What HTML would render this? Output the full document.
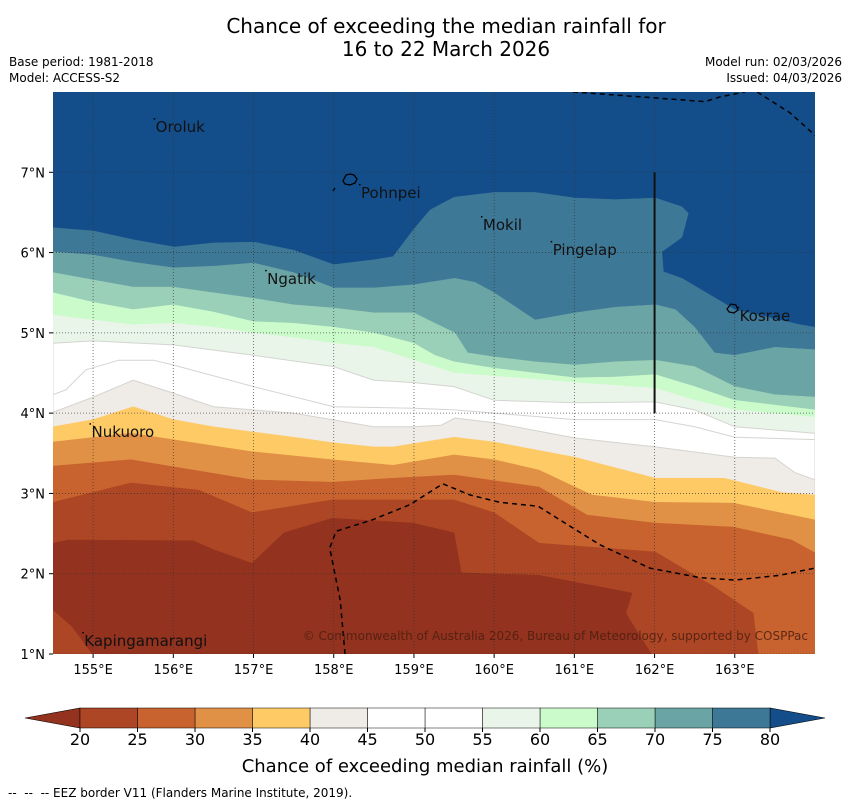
<!DOCTYPE html>
<html><head><meta charset="utf-8">
<style>
body{margin:0;background:#fff;width:850px;height:804px;overflow:hidden;font-family:"DejaVu Sans","Liberation Sans",sans-serif;}
svg text{font-family:"DejaVu Sans","Liberation Sans",sans-serif;}
</style></head>
<body>
<svg id="chart" width="850" height="804" viewBox="0 0 850 804" xmlns="http://www.w3.org/2000/svg">
<text x="446" y="33" font-size="20" text-anchor="middle">Chance of exceeding the median rainfall for</text>
<text x="446" y="56" font-size="20" text-anchor="middle">16 to 22 March 2026</text>
<text x="9" y="66" font-size="12">Base period: 1981-2018</text>
<text x="9" y="82" font-size="12">Model: ACCESS-S2</text>
<text x="842" y="66" font-size="12" text-anchor="end">Model run: 02/03/2026</text>
<text x="842" y="82" font-size="12" text-anchor="end">Issued: 04/03/2026</text>
<defs><clipPath id="plotclip"><rect x="53" y="92" width="762" height="562"/></clipPath></defs>
<g id="map" clip-path="url(#plotclip)"></g>
<g id="axes"></g>
<g id="cbar"></g>
<text x="425" y="772" font-size="18" text-anchor="middle">Chance of exceeding median rainfall (%)</text>
<text x="8" y="797" font-size="12" xml:space="preserve">--  --  -- EEZ border V11 (Flanders Marine Institute, 2019).</text>
</svg>
<script>
// Contour levels (%) and band colours
const levels = [80,75,70,65,60,55,50,45,40,35,30,25,20];
const bandColors = ["#3e7897","#6ba4a4","#9acfb8","#ccfbcb","#eaf5ea","#ffffff","#ffffff","#efebe6","#fdca66","#e09145","#c8622f","#ad4624","#93321e"];
const topColor = "#134e8a";
// Contour boundary positions (lon / lat) for each level
const c80lon=[154.5,155,155.5,156.01,156.51,157.01,157.5,158,158.5,158.74,158.99,159.2,159.5,160,160.51,161.01,161.51,162.01,162.34,162.42,162.34,162.09,162.11,162.34,163,163.82,164];
const c80lat=[6.31,6.27,6.16,6.07,6.12,6.13,6.03,5.85,5.91,5.95,6.28,6.53,6.69,6.75,6.75,6.68,6.66,6.68,6.57,6.49,6.19,6.01,5.76,5.68,5.29,5.10,5.07];
const c75lon=[154.5,155,155.5,156,156.5,157,157.5,158,158.5,159,159.51,159.76,160,160.51,161.01,161.51,162.01,162.26,162.5,162.75,163,163.5,164];
const c75lat=[6.01,5.97,5.88,5.81,5.83,5.87,5.75,5.56,5.56,5.60,5.68,5.63,5.50,5.16,5.25,5.32,5.35,5.29,5.07,4.75,4.72,4.82,4.79];
const c70lon=[154.5,155,155.5,156,156.5,157,157.5,158,158.5,159,159.26,159.51,159.67,160,160.51,161.01,161.51,162.01,162.5,163,163.5,164];
const c70lat=[5.75,5.66,5.57,5.57,5.50,5.43,5.35,5.31,5.25,5.25,5.12,5.00,4.75,4.70,4.64,4.60,4.64,4.66,4.58,4.33,4.23,4.20];
const c65lon=[154.5,155,155.5,156,156.5,157,157.5,158,158.5,159,159.26,159.5,160,161.01,161.51,162.01,162.5,163,164];
const c65lat=[5.50,5.38,5.29,5.35,5.26,5.14,5.12,5.07,5.00,4.87,4.72,4.64,4.56,4.44,4.45,4.48,4.33,4.16,4.04];
const c60lon=[154.5,155,155.5,156,156.5,157,157.5,158,158.5,159,159.5,161.01,162.01,162.5,163,164];
const c60lat=[5.22,5.16,5.10,5.12,5.07,5.00,4.94,4.87,4.82,4.66,4.50,4.38,4.31,4.16,4.04,3.95];
const c55lon=[154.5,155,156,157,158,158.5,159,159.5,160,161.01,162.01,162.5,163,164];
const c55lat=[4.87,4.90,4.85,4.72,4.58,4.41,4.38,4.33,4.16,4.13,4.14,4.04,3.83,3.75];
const c50lon=[154.5,154.66,154.91,155.32,155.75,156,157,158,159,159.5,161.01,162.01,162.5,163,164];
const c50lat=[4.23,4.29,4.54,4.66,4.66,4.60,4.33,4.08,4.06,4.04,3.92,3.92,3.83,3.70,3.67];
const c45lon=[154.5,155,155.5,156,156.5,157.5,158.5,159,159.34,159.51,160,161.01,162.01,163,163.5,163.75,164];
const c45lat=[4.01,4.20,4.41,4.25,4.08,4.00,3.83,3.83,3.85,3.94,3.88,3.69,3.58,3.45,3.44,3.26,3.17];
const c40lon=[154.5,155,155.5,156,156.5,157.5,158,158.5,158.74,159.5,160,161.01,162.01,162.87,163.59,164];
const c40lat=[3.83,3.92,4.08,3.92,3.83,3.70,3.63,3.58,3.58,3.70,3.64,3.45,3.19,3.19,3.01,2.98];
const c35lon=[154.5,155.47,156.98,157.98,158.74,159.5,160,160.56,161.22,162.01,162.98,164];
const c35lat=[3.64,3.75,3.52,3.42,3.35,3.48,3.42,3.29,2.98,2.89,2.88,2.67];
const c30lon=[154.5,155.47,156.98,157.98,158.74,159.5,160.56,161.16,162.01,162.98,163.71,164];
const c30lat=[3.34,3.42,3.17,3.14,3.19,3.23,3.08,2.73,2.63,2.58,2.42,2.26];
const c25lon=[154.5,155.47,156.32,156.98,157.98,159.5,160,160.56,162.01,162.74,163.23,163.29];
const c25lat=[2.89,3.13,3.04,2.76,2.92,2.92,2.76,2.38,2.27,1.84,1.51,1.0];
const c20lon=[154.99,154.74,154.5,154.5,154.69,156.25,156.5,156.98,157.38,157.98,158.99,159.5,159.59,160.56,161.72,161.64,161.96];
const c20lat=[1.0,1.34,1.55,2.38,2.42,2.41,2.30,2.13,2.51,2.69,2.63,2.51,2.01,1.98,1.76,1.51,1.0];
const contourLons=[c80lon,c75lon,c70lon,c65lon,c60lon,c55lon,c50lon,c45lon,c40lon,c35lon,c30lon,c25lon,c20lon];
const contourLats=[c80lat,c75lat,c70lat,c65lat,c60lat,c55lat,c50lat,c45lat,c40lat,c35lat,c30lat,c25lat,c20lat];
// EEZ borders
const eezSouthLon=[158.14,158.08,157.95,158.03,158.48,158.95,159.36,159.70,160.07,160.55,160.82,161.32,161.94,162.57,163.0,163.56,164.0];
const eezSouthLat=[1.0,1.67,2.32,2.53,2.67,2.86,3.12,2.98,2.89,2.84,2.67,2.36,2.07,1.95,1.92,1.98,2.07];
const eezNorthLon=[160.98,161.82,162.63,162.82,163.13];
const eezNorthLat=[8.0,7.94,7.88,7.94,8.0];
const eezNeLon=[163.28,163.69,164.0];
const eezNeLat=[8.0,7.74,7.46];
// Islands
const islandNames=["Oroluk","Pohnpei","Mokil","Pingelap","Ngatik","Kosrae","Nukuoro","Kapingamarangi"];
const islandLon=[155.78,158.34,159.86,160.73,157.17,163.06,154.98,154.89];
const islandLat=[7.65,6.83,6.43,6.12,5.76,5.3,3.85,1.25];
// Axis ticks
const lonTicks=[155,156,157,158,159,160,161,162,163];
const latTicks=[1,2,3,4,5,6,7];
const cbarTicks=[20,25,30,35,40,45,50,55,60,65,70,75,80];

const NS="http://www.w3.org/2000/svg";
const X0=53,X1=815,Y0=92,Y1=654,LON0=154.5,LON1=164,LAT0=1,LAT1=8;
function xs(lon){return X0+(lon-LON0)/(LON1-LON0)*(X1-X0);}
function ys(lat){return Y1-(lat-LAT0)/(LAT1-LAT0)*(Y1-Y0);}
function mk(tag,attrs,parent){const e=document.createElementNS(NS,tag);for(const k in attrs)e.setAttribute(k,attrs[k]);parent.appendChild(e);return e;}
const map=document.getElementById('map');
let bg=mk('rect',{x:X0,y:Y0,width:X1-X0,height:Y1-Y0,fill:topColor},map);


levels.forEach((lv,i)=>{
  const lons=contourLons[i],lats=contourLats[i];
  let pts=lons.map((l,j)=>xs(l).toFixed(1)+","+ys(lats[j]).toFixed(1));
  pts.push(xs(lons[lons.length-1]).toFixed(1)+","+(ys(0.9)).toFixed(1));
  pts.push(xs(lons[0]).toFixed(1)+","+(ys(0.9)).toFixed(1));
  const white=(lv<=55&&lv>=45);
  const p=mk('polygon',{points:pts.join(" "),fill:bandColors[i],stroke:white?"#d4d4d0":bandColors[i],"stroke-width":white?1:0.5},map);
  
  
});
// grid
lonTicks.forEach(l=>{const g=mk('line',{x1:xs(l),x2:xs(l),y1:Y0,y2:Y1,stroke:"#333","stroke-width":0.8,"stroke-dasharray":"1,2",opacity:0.8},map);

});
latTicks.forEach(l=>{const g=mk('line',{x1:X0,x2:X1,y1:ys(l),y2:ys(l),stroke:"#333","stroke-width":0.8,"stroke-dasharray":"1,2",opacity:0.8},map);

});
// EEZ
[[eezSouthLon,eezSouthLat],[eezNorthLon,eezNorthLat],[eezNeLon,eezNeLat]].forEach((e,k)=>{
  const d=e[0].map((l,j)=>(j?"L":"M")+xs(l).toFixed(1)+","+ys(e[1][j]).toFixed(1)).join(" ");
  const p=mk('path',{d:d,fill:"none",stroke:"#000","stroke-width":1.5,"stroke-dasharray":"5,4"},map);
  
  
});
// vertical border line at 162E
let vl=mk('line',{x1:xs(162),x2:xs(162),y1:ys(7),y2:ys(4),stroke:"#111","stroke-width":2},map);


// island shapes
let pohn=mk('path',{d:"M344,179 l2,-4 l4,-1 l4,1 l3,4 l-2,4 l-5,2 l-5,-1 l-2,-3 z M335,188 l-2,3",fill:"none",stroke:"#000","stroke-width":1.3},map);


let kos=mk('path',{d:"M727,309 l4,-5 l5,1 l2,5 l-4,3 l-5,-1 z",fill:"none",stroke:"#000","stroke-width":1.2},map);


islandNames.forEach((n,i)=>{
  const d=mk('rect',{x:xs(islandLon[i])-2,y:ys(islandLat[i])-2,width:1.5,height:1.5,fill:"#000"},map);
  
  
  const t=mk('text',{x:xs(islandLon[i]),y:ys(islandLat[i])+12,"font-size":15,fill:"#111"},map);
  t.textContent=n;
  
  
});
let cp=mk('text',{x:808,y:640,"font-size":12,"text-anchor":"end",fill:"#4a1e10","fill-opacity":0.85},map);
cp.textContent="© Commonwealth of Australia 2026, Bureau of Meteorology, supported by COSPPac";


// axes
const ax=document.getElementById('axes');
lonTicks.forEach(l=>{
  mk('line',{x1:xs(l),x2:xs(l),y1:Y1,y2:Y1+4,stroke:"#000"},ax);
  const t=mk('text',{x:xs(l),y:674,"font-size":13,"text-anchor":"middle"},ax);
  t.textContent=l+"°E";
  
  
});
latTicks.forEach(l=>{
  mk('line',{x1:X0-4,x2:X0,y1:ys(l),y2:ys(l),stroke:"#000"},ax);
  const t=mk('text',{x:45,y:ys(l)+5,"font-size":13,"text-anchor":"end"},ax);
  t.textContent=l+"°N";
  
  
});
// colorbar
const cb=document.getElementById('cbar');
const CB0=80,CB1=770,CBY=708,CBH=20;
function cx(v){return CB0+(v-20)/60*(CB1-CB0);}
let lt=mk('polygon',{points:`${CB0},${CBY} ${CB0},${CBY+CBH} 25,${CBY+CBH/2}`,fill:bandColors[12],stroke:"#000","stroke-width":0.6},cb);


let rt=mk('polygon',{points:`${CB1},${CBY} ${CB1},${CBY+CBH} 825,${CBY+CBH/2}`,fill:topColor,stroke:"#000","stroke-width":0.6},cb);


levels.slice(0,12).forEach((lv,i)=>{
  const r=mk('rect',{x:cx(lv-5),y:CBY,width:cx(lv)-cx(lv-5),height:CBH,fill:bandColors[i],stroke:"#000","stroke-width":0.5},cb);
  
  
});
cbarTicks.forEach(v=>{
  mk('line',{x1:cx(v),x2:cx(v),y1:CBY+CBH,y2:CBY+CBH+4,stroke:"#000"},cb);
  const t=mk('text',{x:cx(v),y:745,"font-size":16,"text-anchor":"middle"},cb);
  t.textContent=v;
  
  
});
</script>
</body></html>
